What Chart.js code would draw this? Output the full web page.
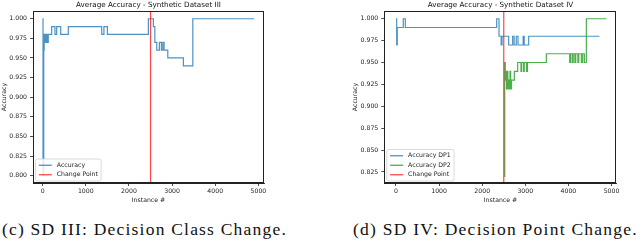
<!DOCTYPE html>
<html>
<head>
<meta charset="utf-8">
<script src="https://cdn.jsdelivr.net/npm/chart.js@4.4.1/dist/chart.umd.min.js"></script>
<style>
  html, body { margin: 0; padding: 0; background: #fff; }
  body { width: 640px; height: 240px; position: relative; overflow: hidden; }
  canvas { position: absolute; top: 0; }
  .caption {
    position: absolute; top: 221px; white-space: nowrap; color: #111;
    font: 17.5px "Liberation Serif", serif; line-height: 17px;
  }
</style>
</head>
<body>
<canvas id="sd3" width="300" height="204" style="left:0"></canvas>
<canvas id="sd4" width="289" height="204" style="left:351px"></canvas>
<div class="caption" style="left:2px">(c) SD III: Decision Class Change.</div>
<div class="caption" style="left:353px">(d) SD IV: Decision Point Change.</div>
<script>
// values (instance where the accuracy changes -> new value)
const sd3Instances = [0, 8, 25, 35, 60, 85, 110, 130, 209, 285, 325, 418, 594, 1369, 1420, 1500,
  2450, 2566, 2600, 2645, 2706, 2752, 2784, 2814, 2900, 3262, 3480, 4900];
const sd3Accuracy = [1.00, 0.80, 0.96, 0.98, 0.97, 0.98, 0.97, 0.98, 0.99, 0.98, 0.99, 0.98, 0.99, 0.98, 0.99, 0.98,
  1.00, 0.99, 0.97, 0.96, 0.97, 0.96, 0.97, 0.96, 0.95, 0.94, 1.00, 1.00];

const sd4Dp1Instances = [0, 16, 30, 169, 216, 2336, 2390, 2440, 2460, 2614, 2707, 2740, 2790, 2830, 2950, 2975, 3078, 4720];
const sd4Dp1Accuracy = [1.00, 0.97, 0.99, 1.00, 0.99, 1.00, 0.98, 0.97, 0.98, 0.97, 0.98, 0.97, 0.98, 0.97, 0.98, 0.97, 0.98, 0.98];

const sd4Dp2Instances = [2510, 2522, 2535, 2550, 2565, 2580, 2595, 2612, 2628, 2645, 2660, 2680, 2746, 2823, 2900, 2915,
  2960, 2975, 3030, 3050, 3488, 4030, 4050, 4090, 4110, 4150, 4170, 4220, 4240, 4300, 4330, 4370, 4416, 4880];
const sd4Dp2Accuracy = [0.82, 0.95, 0.93, 0.94, 0.92, 0.94, 0.92, 0.93, 0.92, 0.94, 0.92, 0.93, 0.94, 0.95, 0.94, 0.95,
  0.94, 0.95, 0.94, 0.95, 0.96, 0.95, 0.96, 0.95, 0.96, 0.95, 0.96, 0.95, 0.96, 0.95, 0.96, 0.95, 1.00, 1.00];

const changePoint = 2500;
const xTicks = [0, 1000, 2000, 3000, 4000, 5000];
const sd3YTicks = [0.800, 0.825, 0.850, 0.875, 0.900, 0.925, 0.950, 0.975, 1.000];
const sd4YTicks = [0.825, 0.850, 0.875, 0.900, 0.925, 0.950, 0.975, 1.000];
const titles = ['Average Accuracy - Synthetic Dataset III', 'Average Accuracy - Synthetic Dataset IV'];
const xLabel = 'Instance #';
const yLabel = 'Accuracy';

const FONT = '"DejaVu Sans", sans-serif';
const BLUE = 'rgba(31,119,180,0.8)';
const GREEN = 'rgba(44,160,44,0.85)';
const RED = 'rgba(255,0,0,0.72)';

const pts = (xs, ys) => xs.map((x, i) => ({x: x, y: ys[i]}));

// box round the axes + legend inside lower left, like matplotlib
const framePlugin = {
  id: 'frameAndLegend',
  afterDraw(chart) {
    const {ctx, chartArea: a} = chart;
    ctx.save();
    ctx.strokeStyle = '#222';
    ctx.lineWidth = 1;
    ctx.strokeRect(Math.round(a.left) + 0.5, Math.round(a.top) + 0.5,
                   Math.round(a.right - a.left) - 1, Math.round(a.bottom - a.top) - 1);

    const items = chart.data.datasets;
    ctx.font = '6.2px ' + FONT;
    const textW = Math.max(...items.map(d => ctx.measureText(d.label).width));
    const padX = 3.3, handle = 13, gap = 5, rowH = 9.5, padY = 1.5;
    const w = padX + handle + gap + textW + padX;
    const h = padY * 2 + rowH * items.length;
    const x0 = a.left + 2.5, y0 = a.bottom - 2 - h;
    ctx.beginPath();
    ctx.roundRect(x0, y0, w, h, 2);
    ctx.fillStyle = 'rgba(255,255,255,0.85)';
    ctx.fill();
    ctx.strokeStyle = '#d0d0d0';
    ctx.lineWidth = 0.8;
    ctx.stroke();
    ctx.textBaseline = 'middle';
    items.forEach((d, i) => {
      const cy = y0 + padY + rowH * (i + 0.5);
      ctx.beginPath();
      ctx.moveTo(x0 + padX, cy);
      ctx.lineTo(x0 + padX + handle, cy);
      ctx.strokeStyle = d.borderColor;
      ctx.lineWidth = 1.3;
      ctx.stroke();
      ctx.fillStyle = '#222';
      ctx.fillText(d.label, x0 + padX + handle + gap, cy);
    });
    ctx.restore();
  }
};

function makeChart(id, title, datasets, xr, yr, yTicks, yWidth, rightPad) {
  const tickFont = {family: FONT, size: 6.2};
  const axisBits = {
    grid: {drawOnChartArea: false, drawTicks: true, tickLength: 3, color: '#222', lineWidth: 0.8},
    border: {display: true, color: '#222', width: 1}
  };
  return new Chart(document.getElementById(id), {
    type: 'line',
    data: {datasets: datasets},
    options: {
      responsive: false,
      animation: false,
      events: [],
      layout: {padding: {left: 0, right: rightPad, top: 0, bottom: 0}},
      plugins: {
        legend: {display: false},
        tooltip: {enabled: false},
        title: {
          display: true, text: title, fullSize: false, color: '#111',
          font: {family: FONT, size: 7.2, weight: 'normal'},
          padding: {top: 1, bottom: 1.4}
        }
      },
      scales: {
        x: Object.assign({
          type: 'linear', min: xr[0], max: xr[1],
          ticks: {font: tickFont, color: '#222', padding: 2, maxRotation: 0, autoSkip: false,
                  callback: v => String(v)},
          afterBuildTicks: s => { s.ticks = xTicks.map(v => ({value: v})); },
          title: {display: true, text: xLabel, font: tickFont, color: '#222', padding: {top: 0, bottom: 0}},
          afterFit: s => { s.height = 21; }
        }, axisBits),
        y: Object.assign({
          type: 'linear', min: yr[0], max: yr[1],
          ticks: {font: tickFont, color: '#222', padding: 3, autoSkip: false,
                  callback: v => v.toFixed(3)},
          afterBuildTicks: s => { s.ticks = yTicks.map(v => ({value: v})); },
          title: {display: true, text: yLabel, font: tickFont, color: '#222', padding: {top: 1, bottom: 0}},
          afterFit: s => { s.width = yWidth; }
        }, axisBits)
      }
    },
    plugins: [framePlugin]
  });
}

const line = (label, data, color, order) => ({
  label: label, data: data, borderColor: color, backgroundColor: color,
  borderWidth: 1.2, pointRadius: 0, stepped: true, fill: false, order: order
});
const cpLine = () => ({
  label: 'Change Point', data: [{x: changePoint, y: 0}, {x: changePoint, y: 2}],
  borderColor: RED, borderWidth: 1.2, pointRadius: 0, fill: false, order: 0
});

makeChart('sd3', titles[0], [
  line('Accuracy', pts(sd3Instances, sd3Accuracy), BLUE, 1),
  cpLine()
], [-224, 5130], [0.7907, 1.0098], sd3YTicks, 33, 36);

makeChart('sd4', titles[1], [
  line('Accuracy DP1', pts(sd4Dp1Instances, sd4Dp1Accuracy), BLUE, 2),
  line('Accuracy DP2', pts(sd4Dp2Instances, sd4Dp2Accuracy), GREEN, 1),
  cpLine()
], [-271, 5120], [0.8124, 1.0088], sd4YTicks, 33.3, 23.3);

// stretch the captions to the width they take in the paper figure
document.querySelectorAll('.caption').forEach(el => {
  const n = el.textContent.length;
  const w = el.getBoundingClientRect().width;
  el.style.letterSpacing = ((285 - w) / n) + 'px';
});
</script>
</body>
</html>
